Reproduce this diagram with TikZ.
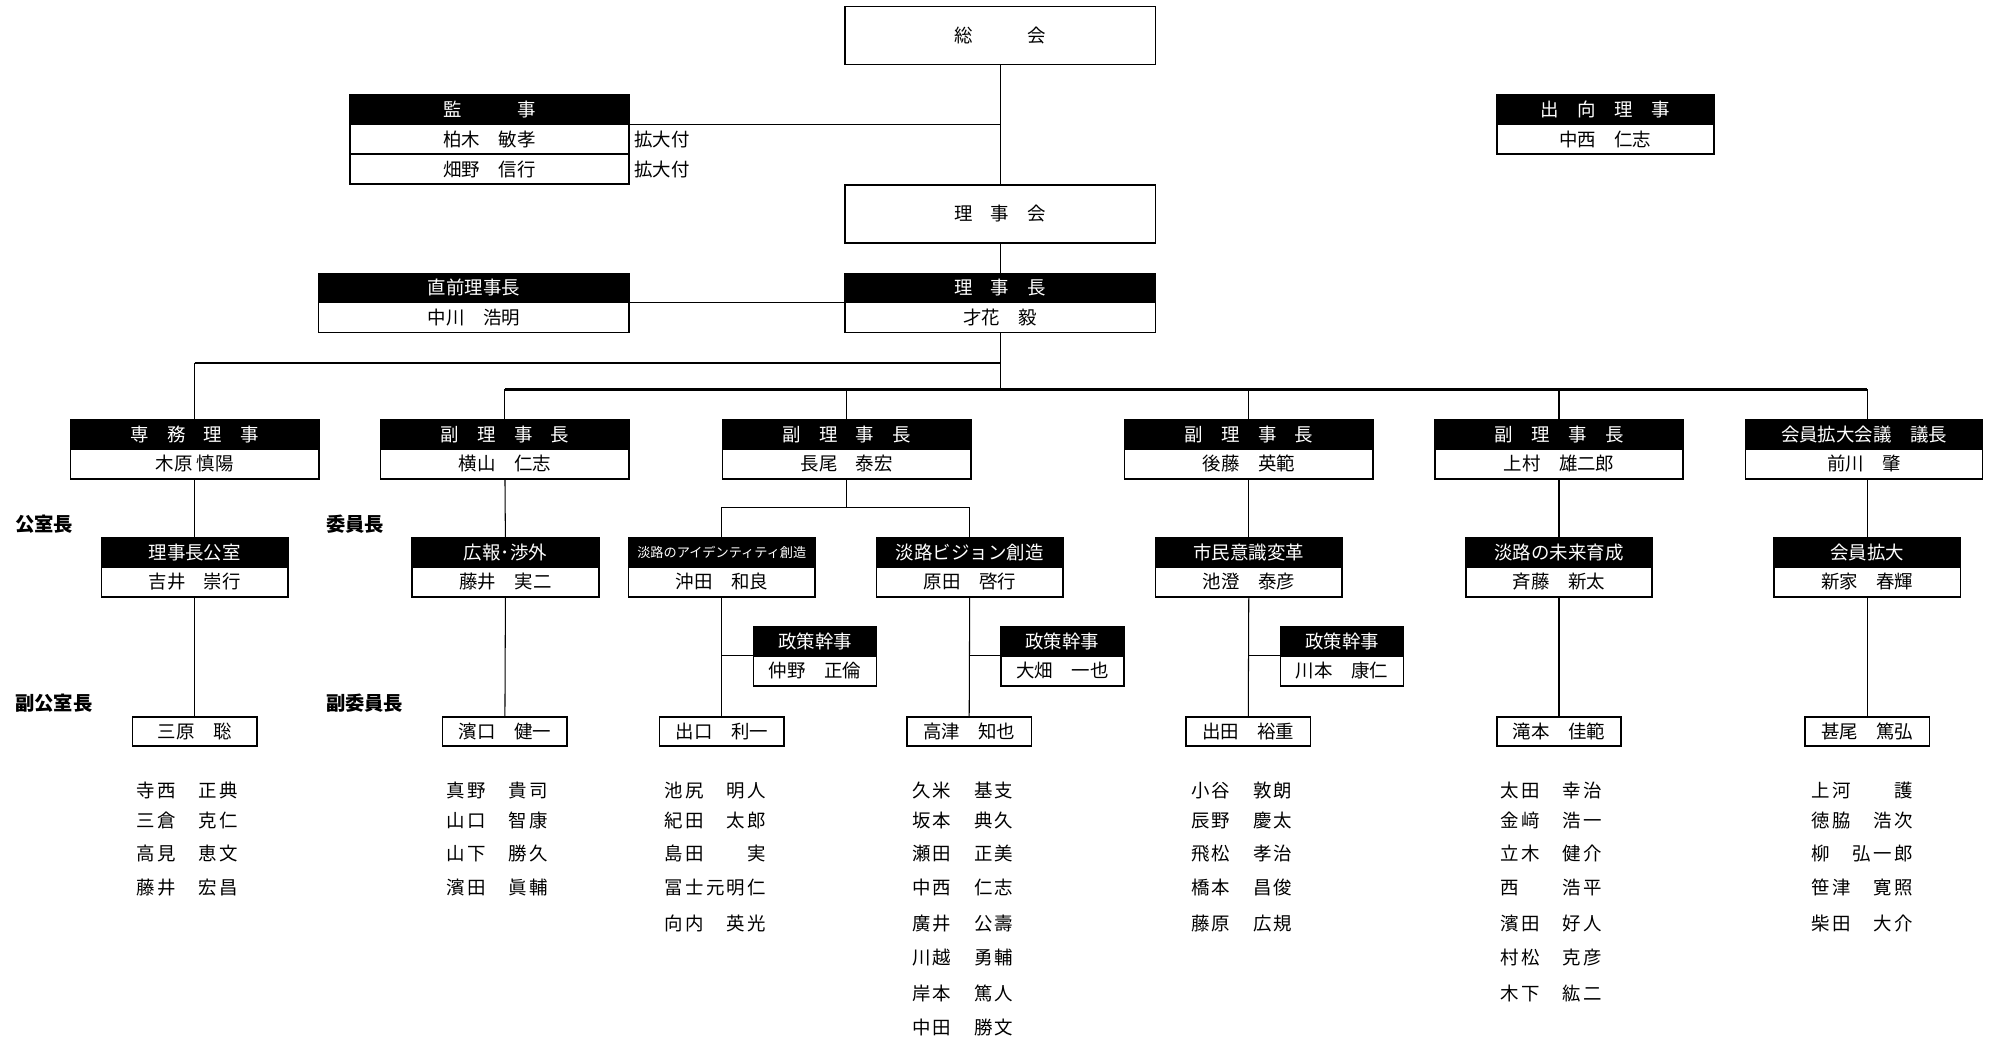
\documentclass[tikz,border=0pt]{standalone}
\usepackage{fontspec}
\setmainfont{Noto Sans CJK JP}
\newfontfamily\listfont{Noto Sans CJK JP}[LetterSpace=12]
\usetikzlibrary{positioning}

\begin{document}
\begin{tikzpicture}[x=0.02537cm, y=-0.02537cm, node distance=0pt,
    every node/.style={inner sep=0pt, outer sep=0pt, font=\fontsize{10.5}{12}\selectfont},
    hd/.style={rectangle, draw, fill=black, text=white, line width=0.9pt, minimum height=0.58cm},
    pr/.style={rectangle, draw, fill=white, line width=0.9pt, minimum height=0.60cm},
    solo/.style={rectangle, draw, fill=white, line width=0.9pt, minimum width=2.49cm, minimum height=0.58cm},
    hall/.style={rectangle, draw, line width=0.9pt, minimum width=6.22cm, minimum height=1.16cm},
    lvtwo/.style={minimum width=4.97cm},
    lvthree/.style={minimum width=3.73cm},
    policy/.style={minimum width=2.46cm},
    post/.style={font=\fontsize{11}{13}\selectfont\bfseries, anchor=west},
    member/.style={font=\listfont\fontsize{10.5}{12}\selectfont, anchor=west},
    link/.style={line width=0.6pt},
    bus/.style={line width=1.3pt}]
  \useasboundingbox (0,0) rectangle (1568,820);

  % top
  \node[hall] (sokai) at (788.5,28) {総　　　会};
  \node[hall] (rijikai) at (788.5,168.5) {理　事　会};
  \node[hd, minimum width=5.58cm] (kanjiH) at (386,86.5) {監　　　事};
  \node[pr, minimum width=5.58cm, below=of kanjiH] (kanji1) {柏木　敏孝};
  \node[pr, minimum width=5.58cm, below=of kanji1] (kanji2) {畑野　信行};
  \node[right=0.1cm of kanji1] (kakudai1) {拡大付};
  \node[right=0.1cm of kanji2] (kakudai2) {拡大付};
  \node[hd, minimum width=4.34cm] (shukkoH) at (1265.5,86.5) {出　向　理　事};
  \node[pr, minimum width=4.34cm, below=of shukkoH] (shukko1) {中西　仁志};
  \node[hd, minimum width=6.22cm] (rijichoH) at (788.5,227) {理　事　長};
  \node[pr, minimum width=6.22cm, below=of rijichoH] (rijicho1) {才花　毅};
  \node[hd, minimum width=6.22cm] (zenH) at (373.5,227) {直前理事長};
  \node[pr, minimum width=6.22cm, below=of zenH] (zen1) {中川　浩明};

  % vice chairs
  \node[hd, lvtwo] (senmuH) at (153.5,342.5) {専　務　理　事};
  \node[pr, lvtwo, below=of senmuH] (senmu1) {木原 慎陽};
  \node[hd, lvtwo] (yokoH) at (398,342.5) {副　理　事　長};
  \node[pr, lvtwo, below=of yokoH] (yoko1) {横山　仁志};
  \node[hd, lvtwo] (nagaoH) at (667.5,342.5) {副　理　事　長};
  \node[pr, lvtwo, below=of nagaoH] (nagao1) {長尾　泰宏};
  \node[hd, lvtwo] (gotoH) at (984.5,342.5) {副　理　事　長};
  \node[pr, lvtwo, below=of gotoH] (goto1) {後藤　英範};
  \node[hd, lvtwo] (uemuraH) at (1229,342.5) {副　理　事　長};
  \node[pr, lvtwo, below=of uemuraH] (uemura1) {上村　雄二郎};
  \node[hd, minimum width=4.74cm] (maekawaH) at (1469.5,342.5) {会員拡大会議　議長};
  \node[pr, minimum width=4.74cm, below=of maekawaH] (maekawa1) {前川　肇};

  % committees
  \node[hd, lvthree] (ksH) at (153.5,435.5) {理事長公室};
  \node[pr, lvthree, below=of ksH] (ks1) {吉井　崇行};
  \node[hd, lvthree] (khH) at (398.5,435.5) {広報･渉外};
  \node[pr, lvthree, below=of khH] (kh1) {藤井　実二};
  \node[hd, lvthree, font=\fontsize{7.5}{9}\selectfont] (adH) at (569,435.5) {淡路のアイデンティティ創造};
  \node[pr, lvthree, below=of adH] (ad1) {沖田　和良};
  \node[hd, lvthree] (vsH) at (764.5,435.5) {淡路ビジョン創造};
  \node[pr, lvthree, below=of vsH] (vs1) {原田　啓行};
  \node[hd, lvthree] (smH) at (984.5,435.5) {市民意識変革};
  \node[pr, lvthree, below=of smH] (sm1) {池澄　泰彦};
  \node[hd, lvthree] (mrH) at (1229,435.5) {淡路の未来育成};
  \node[pr, lvthree, below=of mrH] (mr1) {斉藤　新太};
  \node[hd, lvthree] (kdH) at (1472,435.5) {会員拡大};
  \node[pr, lvthree, below=of kdH] (kd1) {新家　春輝};

  \node[hd, policy] (pol1H) at (642.5,505.5) {政策幹事};
  \node[pr, policy, below=of pol1H] (pol1) {仲野　正倫};
  \node[hd, policy] (pol2H) at (837.5,505.5) {政策幹事};
  \node[pr, policy, below=of pol2H] (pol2) {大畑　一也};
  \node[hd, policy] (pol3H) at (1058,505.5) {政策幹事};
  \node[pr, policy, below=of pol3H] (pol3) {川本　康仁};

  \node[solo] (ksV) at (153.5,576.5) {三原　聡};
  \node[solo] (khV) at (398,576.5) {濱口　健一};
  \node[solo] (adV) at (569,576.5) {出口　利一};
  \node[solo] (vsV) at (764,576.5) {高津　知也};
  \node[solo] (smV) at (984,576.5) {出田　裕重};
  \node[solo] (mrV) at (1229,576.5) {滝本　佳範};
  \node[solo] (kdV) at (1472,576.5) {甚尾　篤弘};

  \node[post] (lblA) at (12,413) {公室長};
  \node[post] (lblB) at (257,413) {委員長};
  \node[post] (lblC) at (12,554) {副公室長};
  \node[post] (lblD) at (257,554) {副委員長};

  % members
  \foreach \nm [count=\i] in {寺西　正典,三倉　克仁,高見　恵文,藤井　宏昌}{
    \pgfmathsetmacro\yy{{623,647,673,700,728,755,783,810}[\i-1]}
    \node[member] (ks-\i) at (108,\yy) {\nm};}
  \foreach \nm [count=\i] in {真野　貴司,山口　智康,山下　勝久,濱田　眞輔}{
    \pgfmathsetmacro\yy{{623,647,673,700,728,755,783,810}[\i-1]}
    \node[member] (kh-\i) at (352,\yy) {\nm};}
  \foreach \nm [count=\i] in {池尻　明人,紀田　太郎,島田　　実,冨士元明仁,向内　英光}{
    \pgfmathsetmacro\yy{{623,647,673,700,728,755,783,810}[\i-1]}
    \node[member] (ad-\i) at (524,\yy) {\nm};}
  \foreach \nm [count=\i] in {久米　基支,坂本　典久,瀬田　正美,中西　仁志,廣井　公壽,川越　勇輔,岸本　篤人,中田　勝文}{
    \pgfmathsetmacro\yy{{623,647,673,700,728,755,783,810}[\i-1]}
    \node[member] (vs-\i) at (719,\yy) {\nm};}
  \foreach \nm [count=\i] in {小谷　敦朗,辰野　慶太,飛松　孝治,橋本　昌俊,藤原　広規}{
    \pgfmathsetmacro\yy{{623,647,673,700,728,755,783,810}[\i-1]}
    \node[member] (sm-\i) at (939,\yy) {\nm};}
  \foreach \nm [count=\i] in {太田　幸治,金﨑　浩一,立木　健介,西　　浩平,濱田　好人,村松　克彦,木下　紘二}{
    \pgfmathsetmacro\yy{{623,647,673,700,728,755,783,810}[\i-1]}
    \node[member] (mr-\i) at (1183,\yy) {\nm};}
  \foreach \nm [count=\i] in {上河　　護,徳脇　浩次,柳　弘一郎,笹津　寛照,柴田　大介}{
    \pgfmathsetmacro\yy{{623,647,673,700,728,755,783,810}[\i-1]}
    \node[member] (kd-\i) at (1428,\yy) {\nm};}

  % connectors
  \coordinate (busA) at (788.5,286);
  \coordinate (busB) at (788.5,307);
  \coordinate (split) at (667.5,400);
  \draw[link] (sokai) -- (rijikai);
  \draw[link] (kanjiH.south east) -- (kanjiH.south east -| sokai.south);
  \draw[link] (rijikai) -- (rijichoH);
  \draw[link] (zenH.south east) -- (rijichoH.south west);
  \draw[link] (rijicho1.south) -- (busB);
  \draw[bus] (senmuH.north |- busA) -- (busA);
  \draw[link] (senmuH.north |- busA) -- (senmuH.north);
  \draw[bus] (yokoH.north |- busB) -- (kdH.north |- busB);
  \foreach \v in {yoko,nagao,goto,uemura}
    \draw[link] (\v H.north |- busB) -- (\v H.north);
  \draw[link] (kdH.north |- busB) -- (kdH.north |- maekawaH.north);
  \draw[link] (senmu1) -- (ksH);
  \draw[link] (yoko1) -- (khH);
  \draw[link] (goto1) -- (smH);
  \draw[link] (uemura1) -- (mrH);
  \draw[link] (kdH.north |- maekawa1.south) -- (kdH.north);
  \draw[link] (nagao1) -- (split);
  \draw[link] (adH.north) |- (split) -| (vsH.north);
  \foreach \v in {ks,kh,ad,vs,sm,mr,kd}
    \draw[link] (\v 1) -- (\v V);
  \draw[link] (pol1H.south west) -- (pol1H.south west -| ad1.south);
  \draw[link] (pol2H.south west) -- (pol2H.south west -| vs1.south);
  \draw[link] (pol3H.south west) -- (pol3H.south west -| sm1.south);
\end{tikzpicture}
\end{document}
